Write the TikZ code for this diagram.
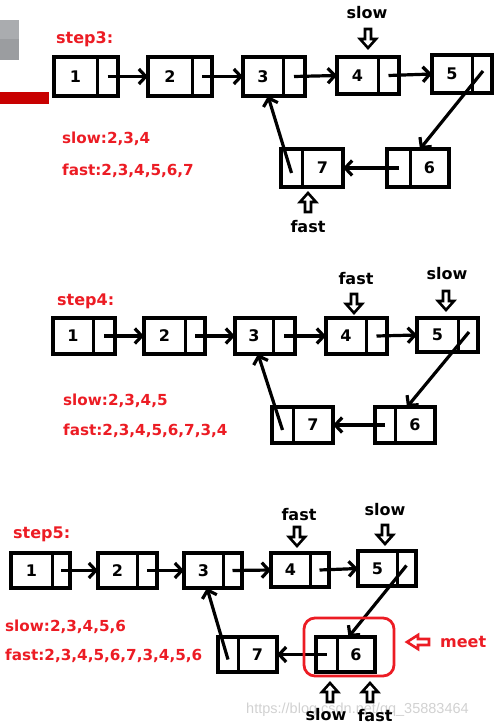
\documentclass[tikz,border=0pt]{standalone}
\usepackage{fontspec}
\setmainfont{DejaVu Sans}
\newfontfamily\wmfont{Liberation Sans}
\usetikzlibrary{arrows.meta,calc}
\definecolor{redtxt}{RGB}{236,28,36}
\definecolor{barred}{RGB}{200,0,0}
\definecolor{grayA}{RGB}{170,172,175}
\definecolor{grayB}{RGB}{155,157,160}
\newcommand\llnode[9]{% name, x1, x2, xd, y1, y2, num, numx, ptrx
  \pgfmathsetmacro\lw{#3-#2}\pgfmathsetmacro\lh{#6-#5}%
  \pgfmathsetmacro\lcx{(#2+#3)/2}\pgfmathsetmacro\lcy{(#5+#6)/2}%
  \node[cellbox,minimum width=\lw pt,minimum height=\lh pt] (#1) at (\lcx,\lcy) {};
  \draw[boxline] (#4,#5) -- (#4,#6);
  \node[numtxt] (#1-n) at (#8,\lcy) {#7};
  \coordinate (#1-p) at (#9,\lcy);
}
\begin{document}
\begin{tikzpicture}[x=1pt,y=-1pt,
  cellbox/.style={draw,line width=3.4pt,inner sep=0pt,outer sep=0pt},
  boxline/.style={line width=3pt},
  numtxt/.style={font=\bfseries\fontsize{16}{19}\selectfont,inner sep=0pt},
  link/.style={line width=3.2pt,-{Straight Barb[length=7pt,width=15pt]}},
  lbl/.style={font=\bfseries\fontsize{16}{19}\selectfont,inner sep=0pt},
  redlbl/.style={font=\bfseries\fontsize{15.2}{18}\selectfont,inner sep=0pt,text=redtxt,anchor=base west},
  ptrlbl/.style={lbl,anchor=base},
  hdown/.pic={\draw[line width=2.6pt,fill=white] (-3,0) -- (3,0) -- (3,10) -- (8,10) -- (0,19) -- (-8,10) -- (-3,10) -- cycle;},
  hup/.pic={\draw[line width=2.6pt,fill=white] (-3,0) -- (3,0) -- (3,-10) -- (8,-10) -- (0,-19) -- (-8,-10) -- (-3,-10) -- cycle;},
  hleft/.pic={\draw[line width=2.6pt,draw=redtxt,fill=white] (0,-3) -- (0,3) -- (-11,3) -- (-11,7) -- (-22,0) -- (-11,-7) -- (-11,-3) -- cycle;}
]
\useasboundingbox (0,0) rectangle (499,728);
% screenshot fragments
\fill[grayA] (0,20) rectangle (19,39);
\fill[grayB] (0,39) rectangle (19,60);
\fill[barred] (0,92) rectangle (49,104);
% watermark
\node[anchor=base west,inner sep=0pt,font=\wmfont\fontsize{14.5}{16}\selectfont,text=black!18] (wm) at (246,713) {https://blog.csdn.net/qq\_35883464};

% ---------------- step 3
\node[redlbl,font=\bfseries\fontsize{16}{19}\selectfont] (t3) at (56,43) {step3:};
\llnode{a1}{54}{118}{97}{57}{96}{1}{75.5}{107.5}
\llnode{a2}{148}{212}{192}{57}{96}{2}{170}{202}
\llnode{a3}{243}{305}{283}{57}{96}{3}{263}{294}
\llnode{a4}{337}{399}{378}{57}{94}{4}{357.5}{388.5}
\llnode{a5}{432}{492}{472}{55}{93}{5}{452}{482}
\llnode{a7}{281}{343}{302}{149}{187}{7}{322.5}{291.5}
\llnode{a6}{387}{449}{410}{149}{187}{6}{429.5}{398.5}
\draw[link] (a1-p) -- (a2.west);
\draw[link] (a2-p) -- (a3.west);
\draw[link] (a3-p) -- (a4.west);
\draw[link] (a4-p) -- (a5.west);
\draw[link] ($(a5-p)+(1,-3)$) -- ($(a6.north)+(2,0)$);
\draw[link] (a6-p) -- (a7.east);
\draw[link] ($(a7-p)+(0,5)$) -- ($(a3.south)+(-6,0)$);
\node[ptrlbl] (a-slow) at (367,18) {slow};
\pic at (368,29) {hdown};
\pic at (308,212) {hup};
\node[ptrlbl] (a-fast) at (308,232) {fast};
\node[redlbl] (a-s) at (62,143) {slow:2,3,4};
\node[redlbl] (a-f) at (62,175) {fast:2,3,4,5,6,7};

% ---------------- step 4
\node[redlbl,font=\bfseries\fontsize{16}{19}\selectfont] (t4) at (57,305) {step4:};
\llnode{b1}{53}{115}{93}{318}{354}{1}{73}{104}
\llnode{b2}{144}{205}{185}{318}{354}{2}{164.5}{195}
\llnode{b3}{235}{295}{273}{318}{354}{3}{254}{284}
\llnode{b4}{326}{387}{366}{318}{354}{4}{346}{376.5}
\llnode{b5}{417}{478}{458}{318}{352}{5}{437.5}{468}
\llnode{b7}{272}{333}{293}{407}{443}{7}{313}{282.5}
\llnode{b6}{375}{435}{395}{407}{443}{6}{415}{385}
\draw[link] (b1-p) -- (b2.west);
\draw[link] (b2-p) -- (b3.west);
\draw[link] (b3-p) -- (b4.west);
\draw[link] (b4-p) -- (b5.west);
\draw[link] ($(b5-p)+(1,-3)$) -- ($(b6.north)+(2,0)$);
\draw[link] (b6-p) -- (b7.east);
\draw[link] ($(b7-p)+(0,5)$) -- ($(b3.south)+(-7,0)$);
\node[ptrlbl] (b-fast) at (356,284) {fast};
\pic at (354,294) {hdown};
\node[ptrlbl] (b-slow) at (447,279) {slow};
\pic at (446,291) {hdown};
\node[redlbl] (b-s) at (63,405) {slow:2,3,4,5};
\node[redlbl] (b-f) at (63,435) {fast:2,3,4,5,6,7,3,4};

% ---------------- step 5
\node[redlbl,font=\bfseries\fontsize{16}{19}\selectfont] (t5) at (13,538) {step5:};
\llnode{c1}{11}{70}{52}{553}{588}{1}{31.5}{61}
\llnode{c2}{98}{157}{137}{553}{588}{2}{117.5}{147}
\llnode{c3}{184}{242}{223}{553}{588}{3}{203.5}{232.5}
\llnode{c4}{271}{329}{310}{553}{587}{4}{290.5}{319.5}
\llnode{c5}{358}{416}{397}{551}{586}{5}{377.5}{406.5}
\llnode{c7}{218}{277}{238}{637}{672}{7}{257.5}{228}
\llnode{c6}{316}{375}{337}{637}{672}{6}{356}{326.5}
\draw[link] (c1-p) -- (c2.west);
\draw[link] (c2-p) -- (c3.west);
\draw[link] (c3-p) -- (c4.west);
\draw[link] (c4-p) -- (c5.west);
\draw[link] ($(c5-p)+(0,-3)$) -- ($(c6.north)+(3,0)$);
\draw[link] (c6-p) -- (c7.east);
\draw[link] ($(c7-p)+(0,5)$) -- ($(c3.south)+(-6,0)$);
\node[ptrlbl] (c-fast) at (299,520) {fast};
\pic at (297,527) {hdown};
\node[ptrlbl] (c-slow) at (385,515) {slow};
\pic at (385,525) {hdown};
\draw[redtxt,line width=2.8pt,rounded corners=11pt] (304,618) rectangle (394,676);
\pic at (429,642) {hleft};
\node[redlbl,font=\bfseries\fontsize{16}{19}\selectfont] (meet) at (440,647) {meet};
\pic at (330,702) {hup};
\pic at (370,702) {hup};
\node[ptrlbl] (c-slow2) at (326,720) {slow};
\node[ptrlbl] (c-fast2) at (375,721) {fast};
\node[redlbl] (c-s) at (5,631) {slow:2,3,4,5,6};
\node[redlbl] (c-f) at (5,660) {fast:2,3,4,5,6,7,3,4,5,6};
\end{tikzpicture}
\end{document}
